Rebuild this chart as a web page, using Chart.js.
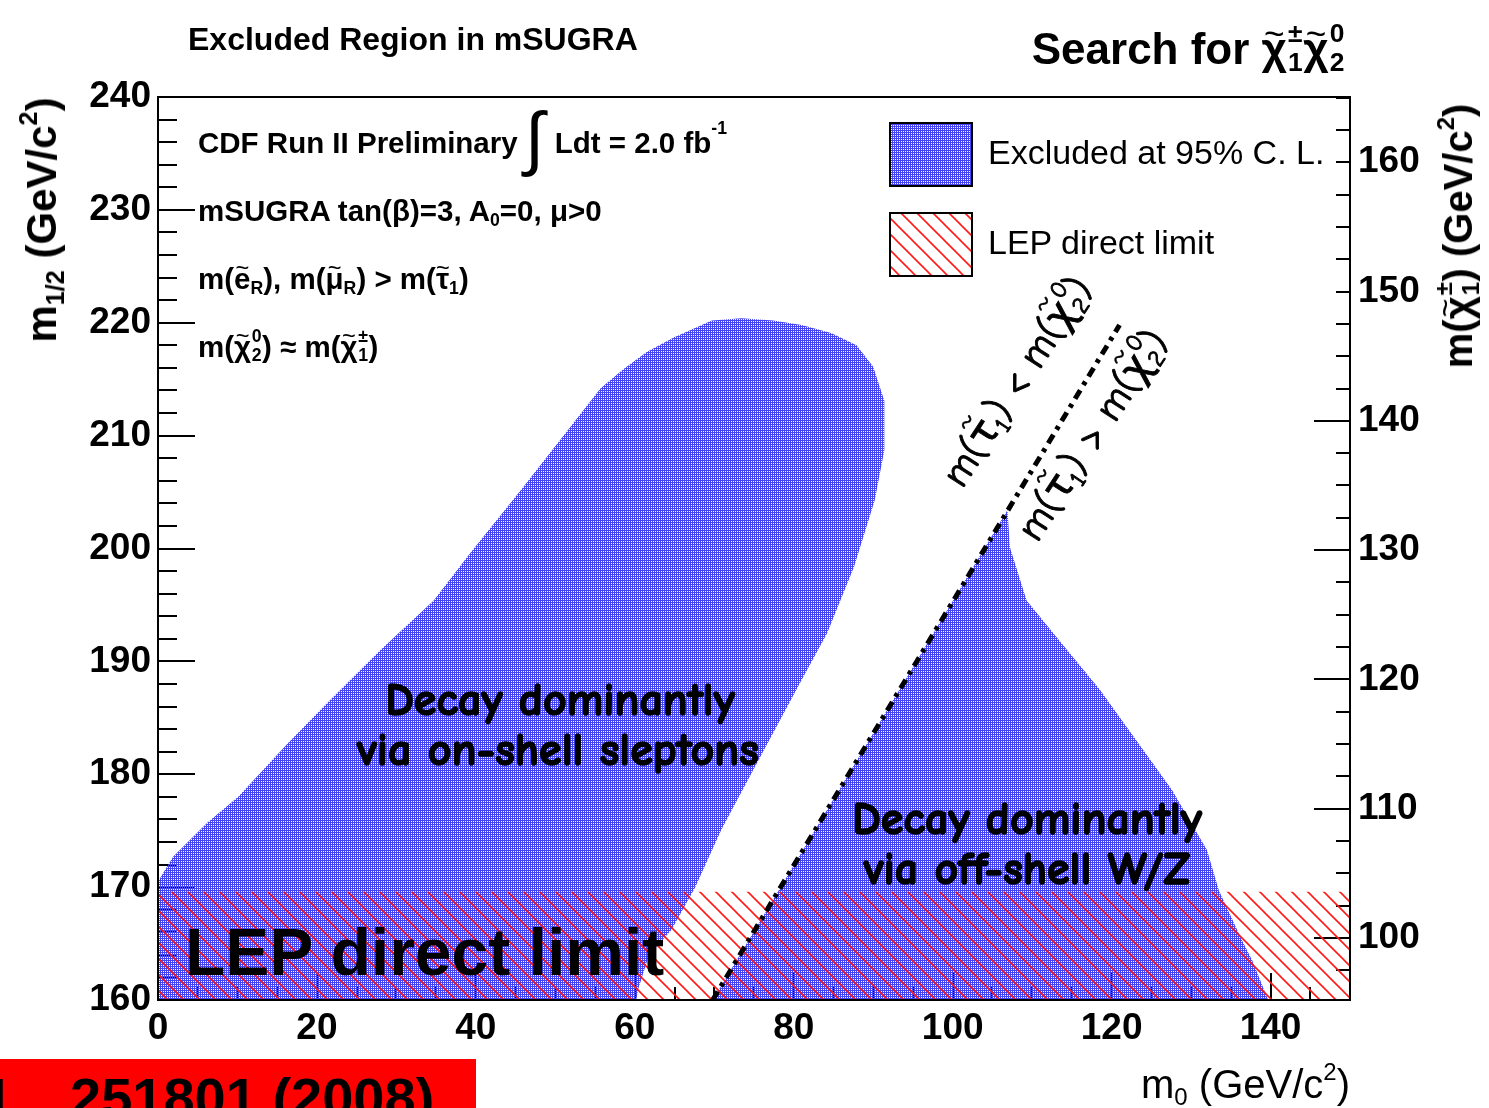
<!DOCTYPE html>
<html lang="en">
<head>
<meta charset="utf-8">
<title>Excluded Region in mSUGRA</title>
<script src="https://cdn.jsdelivr.net/npm/chart.js@4.4.1/dist/chart.umd.min.js"></script>
<style>
  html, body { margin: 0; padding: 0; background: #fff; overflow: hidden; }
  #wrap { position: relative; width: 1489px; height: 1108px; overflow: hidden;
          font-family: "Liberation Sans", Arial, Helvetica, sans-serif; color: #000; }
  #plot { position: absolute; left: 0; top: 0; }
  .lbl { position: absolute; white-space: nowrap; line-height: 1; }
  .comic { font-family: "Comic Sans MS", "Comic Neue", "DejaVu Sans", sans-serif; -webkit-text-stroke: 1.6px #000; }
  .comic.thin { -webkit-text-stroke: 0.9px #000; }
  .tl { position: relative; }
  .tl::after { content: "~"; position: absolute; left: 0; right: 0; top: -0.22em;
               text-align: center; font-size: 0.8em; font-weight: normal; }
  .comic .tl::after { top: -0.45em; font-size: 0.7em; -webkit-text-stroke: 0.4px #000; }
  .ss { position: relative; display: inline-block; width: 0.62em; height: 0; font-size: 0.6em; }
  .ss > span { position: absolute; left: 0.04em; line-height: 1; }
  .ss .sp { bottom: 0.65em; }
  .ss .sb { top: -0.55em; }
  sub, sup { font-size: 0.6em; line-height: 0; }
  sub { vertical-align: -0.3em; }
  sup { vertical-align: 0.75em; }
  .int { font-size: 2.4em; line-height: 0; font-weight: normal; vertical-align: -0.12em; margin: 0 0.15em 0 0.1em; }
  #ref { position: absolute; left: 0; top: 1059px; width: 476px; height: 49px;
         background: #ff0000; overflow: hidden; }
</style>
</head>
<body>
<div id="wrap">
  <canvas id="plot" width="1489" height="1108"></canvas>
  <div id="ref"></div>
</div>
<script>
// excluded at 95% C.L., decays via on-shell sleptons (m0, m1/2 in GeV/c^2)
const onShellM0 = [0, 0, 1.9, 6.2, 10.1, 16.4, 21.7, 28.0, 34.7, 39.3, 45.7, 50.7, 55.7, 58.6, 61.5, 64.9, 69.7, 73.4, 77.4,
  81.0, 84.7, 87.9, 90.0, 91.4, 91.4, 90.2, 87.6, 84.2, 80.8, 74.7, 70.9, 67.6, 64.6, 61.8, 60.4, 60.2];
const onShellM12 = [160, 170.5, 172.7, 175.7, 178.0, 182.8, 186.6, 191.0, 195.4, 199.6, 205.2, 209.7, 214.2, 215.9,
  217.4, 218.7, 220.2, 220.4, 220.2, 219.8, 219.1, 218.0, 216.1, 213.1, 208.7, 204.3, 198.4, 192.5, 188.1, 180.1, 175.1,
  170.0, 166.2, 164.0, 160.9, 160];

// excluded at 95% C.L., decays via off-shell W/Z
const offShellM0 = [69.8, 106.9, 107.2, 109.3, 113.7, 118.5, 127.6, 132.0, 133.5, 136.4, 137.7, 139.7];
const offShellM12 = [160, 203.4, 200.1, 195.4, 191.6, 187.5, 178.6, 173.3, 169.7, 165.3, 163.5, 160];

// LEP direct chargino limit band
const lepM0 = [0, 150, 150, 0];
const lepM12 = [160, 160, 169.6, 169.6];

// m(stau1) = m(chi2^0) boundary
const stauM0 = [69.8, 121.0];
const stauM12 = [160, 219.8];

// tick labels
const xTickLabels = [0, 20, 40, 60, 80, 100, 120, 140];
const yTickLabels = [160, 170, 180, 190, 200, 210, 220, 230, 240];
const y2TickLabels = [100, 110, 120, 130, 140, 150, 160];

const wrap = document.getElementById('wrap');
const ctx = document.getElementById('plot').getContext('2d');

// ROOT-like dotted blue fill (transparent holes so ticks show through)
const blueTile = document.createElement('canvas');
blueTile.width = 2; blueTile.height = 2;
const bt = blueTile.getContext('2d');
bt.fillStyle = 'rgb(68,68,245)';
bt.fillRect(0, 0, 2, 2);
bt.clearRect(1, 1, 1, 1);
const bluePattern = ctx.createPattern(blueTile, 'repeat');

// red 45 degree hatching
const hatchTile = document.createElement('canvas');
hatchTile.width = 16; hatchTile.height = 16;
const ht = hatchTile.getContext('2d');
ht.strokeStyle = '#ff1a1a';
ht.lineWidth = 1.6;
ht.beginPath();
ht.moveTo(-2, -2); ht.lineTo(18, 18);
ht.moveTo(14, -2); ht.lineTo(18, 2);
ht.moveTo(-2, 14); ht.lineTo(2, 18);
ht.stroke();
const hatchPattern = ctx.createPattern(hatchTile, 'repeat');

const pts = (xs, ys) => xs.map((x, i) => ({ x: x, y: ys[i] }));
const tickFont = { family: '"Liberation Sans", Arial, sans-serif', size: 37, weight: 'bold' };

const axisDecor = {
  id: 'axisDecor',
  beforeDatasetsDraw(chart) {
    const { ctx, chartArea: a, scales } = chart;
    ctx.save();
    ctx.strokeStyle = '#000';
    ctx.lineWidth = 2;
    ctx.beginPath();
    scales.x.ticks.forEach(t => {
      const px = Math.round(scales.x.getPixelForValue(t.value));
      const len = t.value % 20 === 0 ? 27 : 13;
      ctx.moveTo(px, a.bottom);
      ctx.lineTo(px, a.bottom - len);
    });
    scales.y.ticks.forEach(t => {
      const py = Math.round(scales.y.getPixelForValue(t.value));
      const len = t.value % 10 === 0 ? 37 : 19;
      ctx.moveTo(a.left, py);
      ctx.lineTo(a.left + len, py);
    });
    scales.y2.ticks.forEach(t => {
      const py = Math.round(scales.y2.getPixelForValue(t.value));
      const len = t.value % 10 === 0 ? 36 : 14;
      ctx.moveTo(a.right, py);
      ctx.lineTo(a.right - len, py);
    });
    ctx.stroke();
    ctx.restore();
  },
  afterDatasetsDraw(chart) {
    const { ctx, chartArea: a } = chart;
    ctx.save();
    ctx.strokeStyle = '#000';
    ctx.lineWidth = 2;
    ctx.strokeRect(a.left, a.top, a.right - a.left, a.bottom - a.top);
    // legend
    ctx.fillStyle = '#fff';
    ctx.fillRect(880, 105, 456, 190);
    ctx.fillStyle = bluePattern;
    ctx.fillRect(890, 123, 82, 63);
    ctx.strokeRect(890, 123, 82, 63);
    ctx.fillStyle = hatchPattern;
    ctx.fillRect(890, 213, 82, 63);
    ctx.strokeRect(890, 213, 82, 63);
    ctx.restore();
  }
};

new Chart(ctx, {
  type: 'line',
  data: {
    datasets: [
      {
        label: 'Excluded at 95% C. L. (on-shell sleptons)',
        data: pts(onShellM0, onShellM12),
        fill: 'shape', backgroundColor: bluePattern,
        borderWidth: 0, borderColor: 'transparent', pointRadius: 0, order: 4
      },
      {
        label: 'Excluded at 95% C. L. (off-shell W/Z)',
        data: pts(offShellM0, offShellM12),
        fill: 'shape', backgroundColor: bluePattern,
        borderWidth: 0, borderColor: 'transparent', pointRadius: 0, order: 3
      },
      {
        label: 'LEP direct limit',
        data: pts(lepM0, lepM12),
        fill: 'shape', backgroundColor: hatchPattern,
        borderWidth: 0, borderColor: 'transparent', pointRadius: 0, order: 2
      },
      {
        label: 'm(stau1) = m(chi20)',
        data: pts(stauM0, stauM12),
        fill: false, borderColor: '#000', borderWidth: 5,
        borderDash: [10, 6, 4, 6], pointRadius: 0, order: 1
      }
    ]
  },
  options: {
    responsive: false,
    animation: false,
    devicePixelRatio: 1,
    layout: { padding: { top: 97, left: 0, right: 0, bottom: 0 } },
    plugins: { legend: { display: false }, tooltip: { enabled: false } },
    elements: { line: { tension: 0 } },
    scales: {
      x: {
        type: 'linear', position: 'bottom', min: 0, max: 150,
        grid: { display: false, drawTicks: false }, border: { display: false },
        ticks: {
          stepSize: 5, autoSkip: false, maxRotation: 0, minRotation: 0, padding: 7,
          font: tickFont, color: '#000',
          callback: v => xTickLabels.includes(v) ? String(v) : ''
        },
        afterFit: s => { s.height = 108; }
      },
      y: {
        type: 'linear', position: 'left', min: 160, max: 240,
        grid: { display: false, drawTicks: false }, border: { display: false },
        ticks: {
          stepSize: 2, autoSkip: false, padding: 7, font: tickFont, color: '#000',
          callback: v => yTickLabels.includes(v) ? String(v) : ''
        },
        afterFit: s => { s.width = 158; }
      },
      y2: {
        type: 'linear', position: 'right', min: 95.2, max: 165.05,
        grid: { display: false, drawTicks: false }, border: { display: false },
        ticks: {
          stepSize: 2.5, includeBounds: false, autoSkip: false, padding: 8,
          font: tickFont, color: '#000',
          callback: v => y2TickLabels.includes(v) ? String(v) : ''
        },
        afterFit: s => { s.width = 139; }
      }
    }
  },
  plugins: [axisDecor]
});

// ---- text ----
const T = ch => '<span class="tl">' + ch + '</span>';
const SS = (sup, sub) => '<span class="ss"><span class="sp">' + sup + '</span><span class="sb">' + sub + '</span></span>';

function addText(html, x, base, size, o) {
  o = o || {};
  const d = document.createElement('div');
  d.className = 'lbl' + (o.cls ? ' ' + o.cls : '');
  d.innerHTML = html;
  d.style.fontSize = size + 'px';
  d.style.fontWeight = o.weight || 'bold';
  if (o.center) {
    d.style.left = x + 'px';
    d.style.top = base + 'px';
    d.style.transform = 'translate(-50%,-50%) rotate(' + (o.rot || 0) + 'deg)';
  } else {
    const asc = 0.85 * size;
    d.style.left = x + 'px';
    d.style.top = (base - asc) + 'px';
    const shift = o.align === 'right' ? '-100%' : o.align === 'center' ? '-50%' : '0';
    d.style.transformOrigin = '0 ' + asc + 'px';
    d.style.transform = 'translateX(' + shift + ')' + (o.rot ? ' rotate(' + o.rot + 'deg)' : '');
  }
  (o.parent || wrap).appendChild(d);
  return d;
}

addText('Excluded Region in mSUGRA', 188, 50, 32);
addText('Search for ' + T('χ') + SS('±', '1') + T('χ') + SS('0', '2'), 1345, 64, 44, { align: 'right' });

addText('CDF Run II Preliminary<span class="int">∫</span>Ldt = 2.0 fb<sup style="vertical-align:1.1em">-1</sup>', 198, 153, 29.5);
addText('mSUGRA tan(β)=3, A<sub>0</sub>=0, μ&gt;0', 198, 221, 29.5);
addText('m(' + T('e') + '<sub>R</sub>), m(' + T('μ') + '<sub>R</sub>) &gt; m(' + T('τ') + '<sub>1</sub>)', 198, 289, 29.5);
addText('m(' + T('χ') + SS('0', '2') + ') ≈ m(' + T('χ') + SS('±', '1') + ')', 198, 357, 29.5);

addText('Excluded at 95% C. L.', 988, 164, 34, { weight: 'normal' });
addText('LEP direct limit', 988, 254, 34, { weight: 'normal' });

addText('m<sub>1/2</sub> (GeV/c<sup>2</sup>)', 42, 220, 42, { center: true, rot: -90 });
addText('m(' + T('χ') + SS('±', '1') + ') (GeV/c<sup>2</sup>)', 1458, 236, 40, { center: true, rot: -90 });
addText('m<sub>0</sub> (GeV/c<sup>2</sup>)', 1350, 1098, 40, { align: 'right', weight: 'normal' });

addText('Decay dominantly', 560, 717, 46, { align: 'center', cls: 'comic' });
addText('via on-shell sleptons', 558, 767, 46, { align: 'center', cls: 'comic' });
addText('Decay dominantly', 1027, 836, 46, { align: 'center', cls: 'comic' });
addText('via off-shell W/Z', 1027, 886, 46, { align: 'center', cls: 'comic' });

addText('LEP direct limit', 185, 975, 66);

addText('m(' + T('τ') + '<sub>1</sub>) &lt; m(' + T('χ') + SS('0', '2') + ')', 963, 490, 40, { cls: 'comic thin', weight: 'normal', rot: -57 });
addText('m(' + T('τ') + '<sub>1</sub>) &gt; m(' + T('χ') + SS('0', '2') + ')', 1038, 544, 40, { cls: 'comic thin', weight: 'normal', rot: -57 });

const ref = document.getElementById('ref');
addText('1,', -18, 59, 56, { parent: ref });
addText('251801 (2008)', 70, 59, 56, { parent: ref });
</script>
</body>
</html>
